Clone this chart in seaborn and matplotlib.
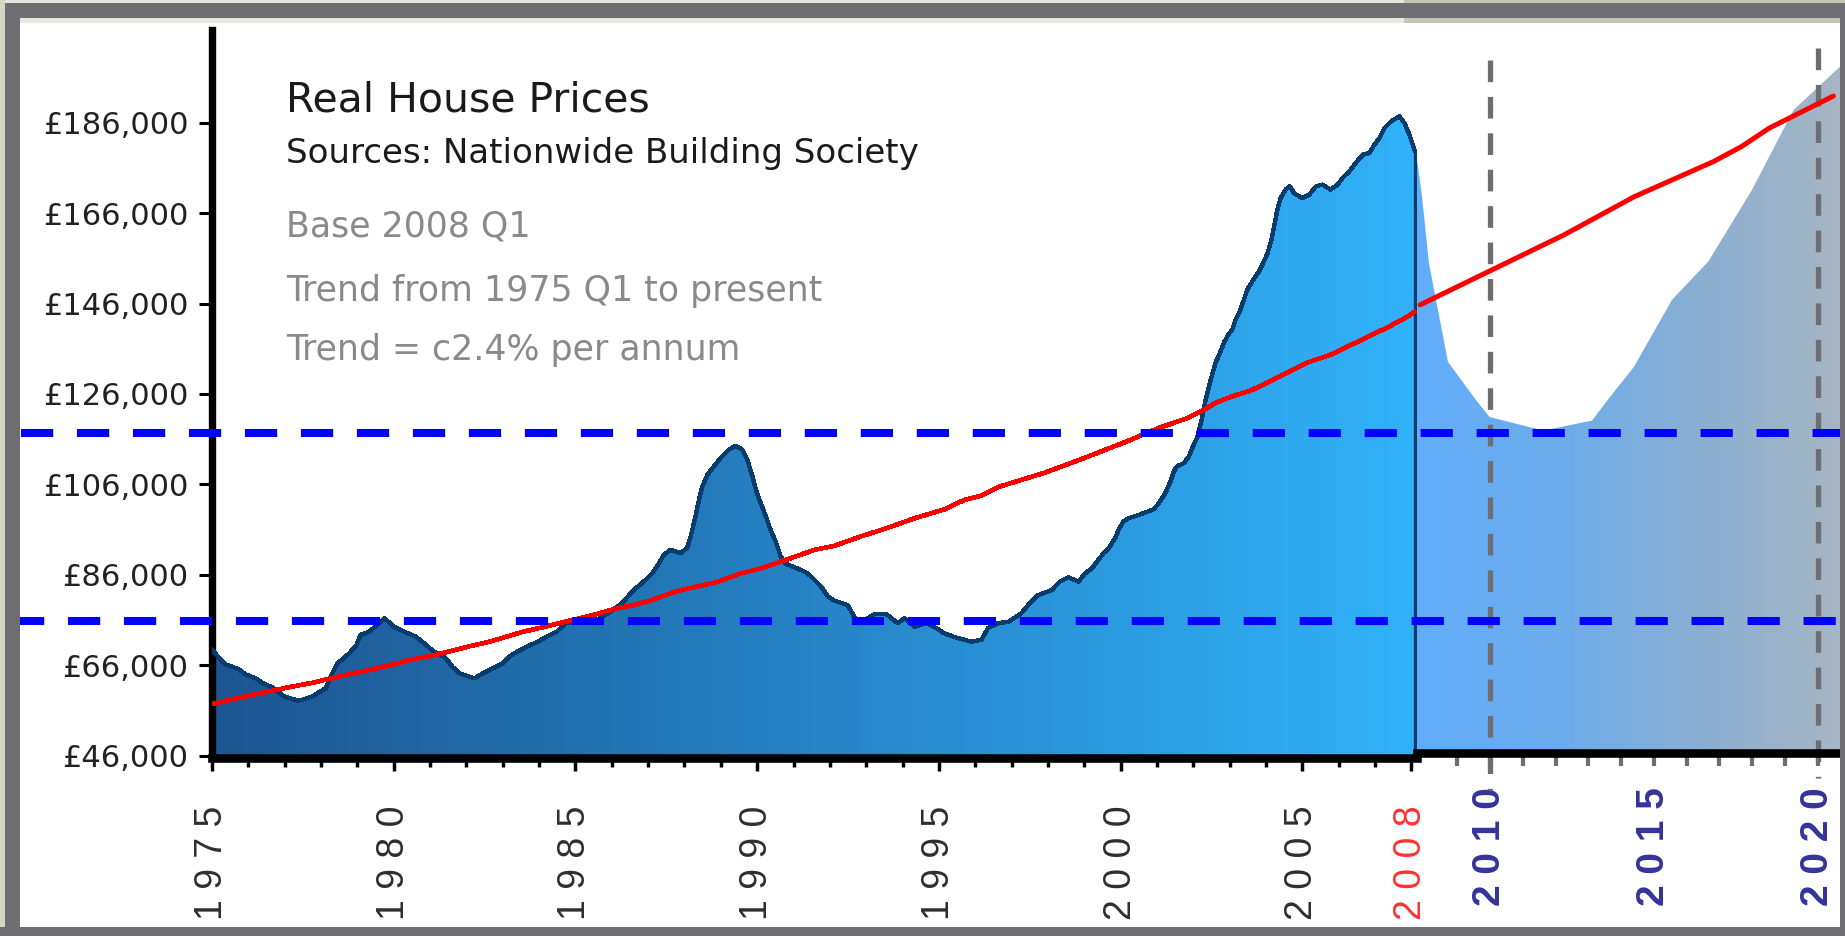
import numpy as np
import matplotlib
matplotlib.use("Agg")
import matplotlib.pyplot as plt
import matplotlib.transforms as mtransforms
from matplotlib.colors import LinearSegmentedColormap
from matplotlib.patches import Polygon, Rectangle
from matplotlib.lines import Line2D
import seaborn as sns

# --- data (GBP, real terms, base 2008 Q1) ---
price_years = [
    1975.00, 1975.20, 1975.37, 1975.74, 1975.92, 1976.20, 1976.38, 1976.66, 1976.98, 1977.39,
    1977.76, 1978.13, 1978.31, 1978.45, 1978.59, 1978.77, 1978.96, 1979.09, 1979.32, 1979.60,
    1979.74, 1980.01, 1980.29, 1980.61, 1980.89, 1981.07, 1981.44, 1981.62, 1981.81, 1982.22,
    1982.45, 1982.73, 1983.00, 1983.23, 1983.47, 1983.69, 1983.97, 1984.20, 1984.48, 1984.75,
    1985.12, 1985.49, 1985.90, 1986.28, 1986.60, 1986.88, 1987.11, 1987.29, 1987.43, 1987.61,
    1987.89, 1988.07, 1988.17, 1988.28, 1988.40, 1988.49, 1988.63, 1988.81, 1988.99, 1989.22,
    1989.41, 1989.59, 1989.73, 1989.87, 1989.99, 1990.10, 1990.24, 1990.37, 1990.51, 1990.65,
    1990.79, 1991.11, 1991.39, 1991.62, 1991.80, 1991.94, 1992.12, 1992.49, 1992.67, 1992.81,
    1993.23, 1993.55, 1993.69, 1993.87, 1994.05, 1994.33, 1994.65, 1994.93, 1995.11, 1995.43,
    1995.89, 1996.17, 1996.35, 1996.63, 1996.91, 1997.27, 1997.50, 1997.73, 1998.10, 1998.33,
    1998.56, 1998.84, 1999.02, 1999.21, 1999.39, 1999.53, 1999.67, 1999.85, 1999.94, 2000.08,
    2000.22, 2000.59, 2000.91, 2001.05, 2001.23, 2001.37, 2001.46, 2001.55, 2001.74, 2001.88,
    2001.99, 2002.10, 2002.21, 2002.33, 2002.43, 2002.52, 2002.61, 2002.75, 2002.84, 2002.96,
    2003.07, 2003.16, 2003.28, 2003.39, 2003.48, 2003.58, 2003.71, 2003.81, 2003.94, 2004.04,
    2004.15, 2004.22, 2004.31, 2004.40, 2004.54, 2004.65, 2004.77, 2005.00, 2005.19, 2005.37,
    2005.55, 2005.78, 2005.97, 2006.11, 2006.29, 2006.47, 2006.66, 2006.84, 2006.98, 2007.12,
    2007.26, 2007.44, 2007.67, 2007.81, 2007.94, 2008.10,
]
price_values = [
    69500, 67500, 66200, 65100, 64000, 63100, 62100, 61100, 59100, 58100,
    59100, 60900, 64200, 66400, 67300, 68600, 70200, 72700, 73400, 75300,
    76400, 74500, 73400, 72300, 70500, 69200, 67500, 65600, 64200, 63100,
    64200, 65300, 66400, 68200, 69300, 70200, 71200, 72300, 73400, 75300,
    75600, 75600, 77500, 79700, 82600, 84500, 86300, 88400, 90400, 91500,
    90800, 91900, 94500, 98100, 102600, 105500, 108100, 110000, 111800, 113700,
    114500, 113700, 111400, 107700, 104100, 101800, 98900, 95900, 93300, 90000,
    88400, 87400, 86300, 84500, 83000, 81200, 80300, 79300, 76700, 75300,
    77300, 77300, 76400, 75300, 76400, 74500, 75300, 74200, 73200, 72200,
    71200, 71600, 74200, 75300, 75600, 77500, 79700, 81500, 82600, 84500,
    85400, 84500, 86300, 87400, 89300, 90800, 91900, 94100, 95900, 97800,
    98500, 99500, 100500, 101800, 104100, 106600, 108800, 110000, 110700, 112200,
    114400, 116200, 119600, 124400, 127700, 130300, 132900, 135400, 137300, 139100,
    140200, 142400, 144300, 146800, 149000, 150300, 152000, 153100, 155300, 157100,
    160100, 163000, 166700, 169300, 171200, 172000, 170400, 169300, 170100, 171900,
    172300, 171200, 172300, 173800, 175200, 177100, 178900, 179300, 181100, 182600,
    184800, 186300, 187400, 185900, 183400, 179600,
]

trend_years = [
    1975.00, 1975.92, 1977.10, 1977.76, 1978.77, 1979.42, 1980.01, 1980.52, 1981.12, 1982.09,
    1982.64, 1983.10, 1983.56, 1984.11, 1984.57, 1985.12, 1985.58, 1986.05, 1986.60, 1987.06,
    1987.80, 1988.35, 1988.90, 1989.55, 1990.10, 1990.83, 1991.57, 1992.12, 1992.86, 1993.60,
    1994.33, 1995.16, 1995.71, 1996.17, 1996.67, 1997.92, 1998.93, 2000.17, 2001.09, 2001.46,
    2001.83, 2002.06, 2002.33, 2002.56, 2002.84, 2003.20, 2003.57, 2004.08, 2004.58, 2005.09,
    2005.82, 2006.33, 2006.84, 2007.34, 2007.85, 2008.10,
]
trend_values = [
    57400, 59100, 61100, 62100, 64000, 65100, 66200, 67300, 68200, 70200,
    71200, 72300, 73400, 74400, 75300, 76400, 77300, 78400, 79300, 80300,
    82400, 83400, 84400, 86300, 87400, 89400, 91500, 92400, 94500, 96400,
    98500, 100500, 102600, 103500, 105500, 108600, 111600, 115500, 118600, 119600,
    120600, 121600, 122600, 123800, 124800, 125800, 126700, 128700, 130700, 132800,
    134800, 136800, 138800, 140700, 142900, 144200,
]

forecast_years = [2007.74, 2007.92, 2008.13, 2008.71, 2009.56, 2009.98, 2011.62, 2013.11,
                  2013.59, 2014.39, 2015.55, 2016.66, 2017.99, 2019.26, 2020.68]
forecast_values = [179200, 169600, 154900, 133100, 124700, 120900, 117900, 120100,
                   124700, 132000, 146800, 155300, 171100, 188800, 198400]

forecast_trend_years = [2007.86, 2009.93, 2012.26, 2014.39, 2016.82, 2017.67, 2018.52, 2020.48]
forecast_trend_values = [145700, 153000, 161200, 169600, 177400, 180700, 184800, 191900]

band_levels = [117300, 75800]
marker_years = [2010, 2020]

y_ticks = [46000, 66000, 86000, 106000, 126000, 146000, 166000, 186000]
left_major_years = [1975, 1980, 1985, 1990, 1995, 2000, 2005, 2008]
left_minor_years = list(range(1976, 2008))
right_major_years = [2010, 2015, 2020]
right_minor_years = [2009, 2011, 2012, 2013, 2014, 2016, 2017, 2018, 2019]

info_lines = ["Base 2008 Q1", "Trend from 1975 Q1 to present", "Trend = c2.4% per annum"]

# --- layout ---
W, H = 1845, 936
Y_TOP = 206500


def px_box(x0, y0, x1, y1):
    return [x0 / W, 1 - y1 / H, (x1 - x0) / W, (y1 - y0) / H]


def spaced(year):
    return " ".join(str(year))


def gradient_fill(ax, xs, ys, base, colors, x0, x1):
    verts = [(xs[0], base)] + list(zip(xs, ys)) + [(xs[-1], base)]
    poly = Polygon(verts, closed=True, facecolor="none", edgecolor="none")
    ax.add_patch(poly)
    cmap = LinearSegmentedColormap.from_list("grad", colors)
    grad = np.linspace(0, 1, 256).reshape(1, -1)
    im = ax.imshow(grad, extent=[x0, x1, base, Y_TOP], aspect="auto", cmap=cmap,
                   origin="lower", interpolation="bilinear", zorder=1)
    im.set_clip_path(poly)


sns.set_theme(style="ticks")
plt.rcParams["font.family"] = ["DejaVu Sans"]

fig = plt.figure(figsize=(W / 100, H / 100), dpi=100)
fig.patch.set_facecolor("white")

ax = fig.add_axes(px_box(212, 30, 1416.5, 755.6))
ax2 = fig.add_axes(px_box(1416.5, 30, 1840, 755.6))
left_x = (1975, 2008.14)
right_x = (2007.75, 2020.68)

# historic prices
gradient_fill(ax, price_years, price_values, y_ticks[0],
              ["#1d5592", "#2274b3", "#2a93d8", "#31b2fa"], *left_x)
sns.lineplot(x=price_years, y=price_values, ax=ax, color="#063c6e", linewidth=2.4,
             sort=False, estimator=None, antialiased=False, zorder=3)
ax.vlines(price_years[-1], y_ticks[0], price_values[-1], color="#063c6e", linewidth=2.4, zorder=3)
sns.lineplot(x=trend_years, y=trend_values, ax=ax, color="#ff0000", linewidth=2.6,
             sort=False, estimator=None, antialiased=False, zorder=4)

# projection
gradient_fill(ax2, forecast_years, forecast_values, y_ticks[0],
              ["#62aefb", "#6cacec", "#8aafd2", "#a7b6c4"], *right_x)
sns.lineplot(x=forecast_trend_years, y=forecast_trend_values, ax=ax2, color="#ff0000",
             linewidth=3.6, sort=False, estimator=None, zorder=4)
vtrans = mtransforms.blended_transform_factory(ax2.transData, ax2.transAxes)
for yr, top, bot in zip(marker_years, [0.9587, 0.9748], [-0.0474, -0.0309]):
    ax2.plot([yr, yr], [top, bot], transform=vtrans, color="#6d6d72", linewidth=3.8,
             dashes=(4.1, 2.8), clip_on=False, zorder=2)

for a, xl in ((ax, left_x), (ax2, right_x)):
    a.set_xlim(*xl)
    a.set_ylim(y_ticks[0], Y_TOP)
    a.set_facecolor("none")
    a.set_xlabel("")
    a.set_ylabel("")
    for s in ("top", "right"):
        a.spines[s].set_visible(False)
    a.spines["bottom"].set_color("black")
    a.spines["bottom"].set_linewidth(6.2)
    a.spines["bottom"].set_zorder(5)

# left axes styling
ax.spines["left"].set_color("black")
ax.spines["left"].set_linewidth(5.3)
ax.spines["bottom"].set_position(("outward", 1.7))
ax.set_yticks(y_ticks, labels=[f"£{v:,}" for v in y_ticks])
ax.tick_params(axis="y", length=9.1, width=2.2, pad=8, labelsize=22, labelcolor="#222222",
               color="black", left=True)
ax.set_xticks(left_major_years, labels=[spaced(y) for y in left_major_years])
ax.set_xticks(left_minor_years, minor=True)
ax.tick_params(axis="x", which="major", length=9.4, width=2.5, pad=25, color="black", bottom=True)
ax.tick_params(axis="x", which="minor", length=6.8, width=2.5, color="black", bottom=True)
for lab in ax.get_xticklabels():
    lab.set_rotation(90)
    lab.set_fontfamily(["Liberation Sans", "DejaVu Sans"])
    lab.set_fontsize(27)
    lab.set_color("#2e2e2e")
ax.get_xticklabels()[-1].set_color("#ff3030")

# right axes styling
ax2.spines["left"].set_visible(False)
ax2.spines["bottom"].set_position(("outward", -2.2))
ax2.set_yticks([])
ax2.set_xticks(right_major_years, labels=[spaced(y) for y in right_major_years])
ax2.set_xticks(right_minor_years, minor=True)
ax2.tick_params(axis="x", which="both", length=9.4, width=3.0, color="#6d6d72", bottom=True)
ax2.tick_params(axis="x", which="major", pad=15.5)
for lab in ax2.get_xticklabels():
    lab.set_rotation(90)
    lab.set_fontfamily(["Liberation Sans", "DejaVu Sans"])
    lab.set_fontweight("bold")
    lab.set_fontsize(28)
    lab.set_color("#33339a")

# blue reference levels across the whole panel
htrans = mtransforms.blended_transform_factory(fig.transFigure, ax.transData)
for lvl, x0 in zip(band_levels, [21, 12]):
    fig.add_artist(Line2D([x0 / W, 1840 / W], [lvl, lvl], transform=htrans, color="#0000ff",
                          linewidth=5.8, dashes=(4.0, 2.95), zorder=6))

# text block
fig.text(286 / W, 1 - 111.7 / H, "Real House Prices", fontsize=29.5, color="#1a1a1a", va="baseline")
fig.text(286 / W, 1 - 163.3 / H, "Sources: Nationwide Building Society", fontsize=24.5,
         color="#1a1a1a", va="baseline")
for txt, base in zip(info_lines, [236.7, 300.5, 360]):
    fig.text(286 / W, 1 - base / H, txt, fontsize=25, color="#8a8a8a", va="baseline")

# window frame
frame = "#6e6d72"
for (x0, y0, x1, y1, c) in [
    (0, 0, 1404, 3, "#e6e6de"), (1404, 0, W, 3, "#c6c4b2"), (0, 3, W, 18, frame),
    (20, 18, 1404, 23, "#e8e8e0"), (1404, 18, W, 23, "#c6c4b2"),
    (0, 0, 4.5, H, "#d5d5c5"), (4.5, 3, 20, H, frame),
    (1840, 3, W, H, frame), (0, 927, W, H, frame),
]:
    fig.add_artist(Rectangle((x0 / W, 1 - y1 / H), (x1 - x0) / W, (y1 - y0) / H,
                             transform=fig.transFigure, color=c, zorder=10, linewidth=0))

fig.savefig("out.png", dpi=100)
